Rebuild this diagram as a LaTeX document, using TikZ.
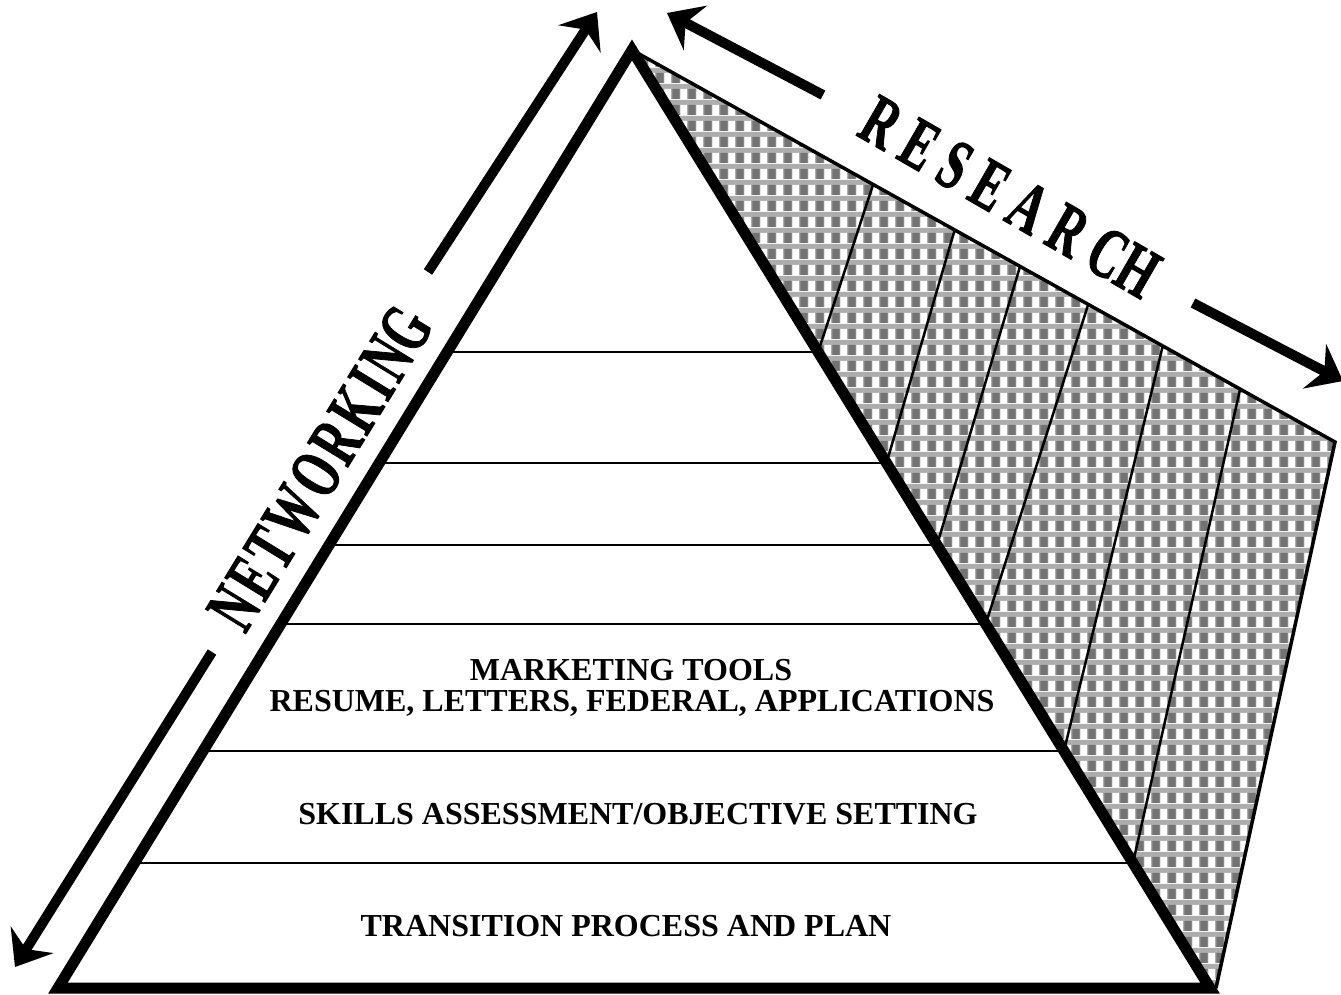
\documentclass[tikz,border=0pt]{standalone}
\usepackage{fontspec}
\setmainfont{Liberation Serif}
\usetikzlibrary{arrows.meta, calc, patterns.meta}

% checked grey fill of the research band
\tikzdeclarepattern{
  name=checks,
  type=colored,
  bottom left={(0pt,0pt)},
  top right={(15.6pt,15.6pt)},
  tile size={(15.6pt,15.6pt)},
  code={
    \fill[black!32] (0pt,0pt) rectangle (15.6pt,15.6pt);
    \fill[black!55] (0.5pt,0pt) rectangle (7.8pt,10.5pt);
    \fill[white] (8.6pt,0pt) rectangle (15.2pt,10.5pt);
  }
}

\begin{document}
\begin{tikzpicture}[
    x=1pt, y=-1pt,
    edge/.style={line width=11pt, line join=miter},
    tier/.style={line width=2pt},
    slat/.style={line width=2.5pt},
    bigarrow/.style={line width=10pt, -{Stealth[length=32pt, width=50pt, inset=11pt]}},
    tiertext/.style={font=\fontsize{32}{32}\selectfont\bfseries, inner sep=0pt, anchor=base},
    wordart/.style={font=\fontsize{72}{72}\selectfont\bfseries\addfontfeature{FakeBold=1.5}, inner sep=0pt},
]
\useasboundingbox (0,0) rectangle (1341,994);

% Corners
\coordinate (apex) at (632,50);
\coordinate (bl) at (58,988);
\coordinate (br) at (1210,988);
\coordinate (hc) at (1335,442);
\coordinate (hb) at (1216,988);

% Research band
\fill[pattern=checks] (apex) -- (hc) -- (hb) -- (br) -- cycle;
\draw[line width=3.5pt, line join=miter] (apex) -- (hc) -- (hb);

% Tiers and slats
\foreach \y/\t [count=\i] in {352/0.343, 463/0.459, 545/0.552, 624/0.649, 751/0.755, 863/0.865} {
  \coordinate (L\i) at ($(apex)!{(\y-50)/938}!(bl)$);
  \coordinate (R\i) at ($(apex)!{(\y-50)/938}!(br)$);
  \coordinate (T\i) at ($(apex)!\t!(hc)$);
  \draw[tier] (L\i) -- (R\i);
  \draw[slat] (R\i) -- (T\i);
}

% Pyramid
\draw[edge] (apex) -- (br) -- (bl) -- cycle;

% Tier labels
\node[tiertext] (tools) at (631,680) {MARKETING TOOLS};
\node[tiertext] (resume) at (632,711) {RESUME, LETTERS, FEDERAL, APPLICATIONS};
\node[tiertext] (skills) at (638,824) {SKILLS ASSESSMENT/OBJECTIVE SETTING};
\node[tiertext] (transition) at (626,936) {TRANSITION PROCESS AND PLAN};

% Side words
\node[wordart, rotate=58.5, xscale=0.64] (networking) at (320,468)
  {\addfontfeature{LetterSpace=8}NETWORKIN\addfontfeature{LetterSpace=0}G};
\node[wordart, rotate=-30, xscale=0.64] (research) at (1010,197)
  {\addfontfeature{LetterSpace=27}RESEARC\addfontfeature{LetterSpace=0}H};

% Arrows
\coordinate (netup0) at (428,272);
\coordinate (netup1) at (597,12);
\coordinate (netdn0) at (212,652);
\coordinate (netdn1) at (15,967);
\coordinate (resup0) at (823,95);
\coordinate (resup1) at (667,13);
\coordinate (resdn0) at (1193,303);
\coordinate (resdn1) at (1343,381);
\draw[bigarrow] (netup0) -- (netup1);
\draw[bigarrow] (netdn0) -- (netdn1);
\draw[bigarrow] (resup0) -- (resup1);
\draw[bigarrow] (resdn0) -- (resdn1);

\end{tikzpicture}
\end{document}
